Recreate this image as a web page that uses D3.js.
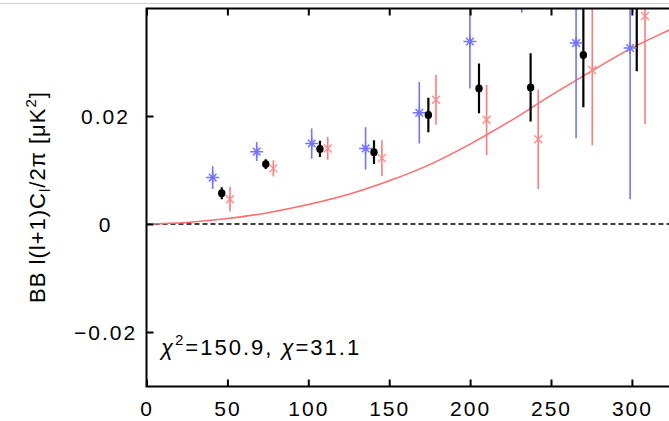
<!DOCTYPE html>
<html><head><meta charset="utf-8">
<script src="https://cdn.jsdelivr.net/npm/d3@7"></script>
<style>body{margin:0;background:#fff}svg{display:block}text{font-family:"Liberation Sans",Arial,sans-serif;fill:#000}</style>
</head><body>
<script>
// ---- data ----
const xTicks = [0, 50, 100, 150, 200, 250, 300];
const yTicks = [-0.02, 0, 0.02];
const yTickLabels = ["\u22120.02", "0", "0.02"];

const blueL = [40.9, 68.1, 102.1, 135.4, 168.6, 199.9, 231.9, 265.5, 298.9];
const blueV = [0.0086, 0.0134, 0.0149, 0.0140, 0.0206, 0.0338, 0.0480, 0.0335, 0.0326];
const blueE = [0.0021, 0.0018, 0.0028, 0.0039, 0.0057, 0.0087, 0.0089, 0.0176, 0.0280];

const blackL = [46.5, 73.7, 107.2, 140.6, 174.2, 205.5, 237.4, 270.0, 303.0];
const blackV = [0.0057, 0.0111, 0.0139, 0.0133, 0.0202, 0.0251, 0.0253, 0.0313, 0.0430];
const blackE = [0.0011, 0.0009, 0.0015, 0.0022, 0.0032, 0.0046, 0.0063, 0.0097, 0.0147];

const pinkL = [51.6, 78.4, 112.0, 145.5, 178.9, 210.2, 242.1, 275.5, 308.1];
const pinkV = [0.0046, 0.0103, 0.0140, 0.0122, 0.0230, 0.0193, 0.0157, 0.0285, 0.0385];
const pinkE = [0.0023, 0.0015, 0.0021, 0.0033, 0.0046, 0.0065, 0.0092, 0.0139, 0.0200];

const curveL = [0, 25, 50, 75, 100, 125, 150, 175, 200, 225, 250, 275, 300, 325, 350];
const curveV = [0, 0.0003, 0.0010, 0.0021, 0.0036, 0.0055, 0.0080, 0.0110, 0.0148, 0.0191, 0.0238, 0.0283, 0.0326, 0.0362, 0.0398];

// ---- layout ----
const W = 669, H = 421;
const pLeft = 146.5, pTop = 8.5, pBottom = 386.5;
const x = d3.scaleLinear().domain([0, 350]).range([pLeft, pLeft + 350 * 1.618]);
const y = d3.scaleLinear().domain([-0.03, 0.04]).range([pBottom - 0.5, pTop - 0.5]);

const svg = d3.select("body").append("svg").attr("width", W).attr("height", H);
svg.append("rect").attr("width", W).attr("height", H).attr("fill", "#fff");
svg.append("line").attr("x1", 0).attr("x2", W).attr("y1", 3.5).attr("y2", 3.5)
  .attr("stroke", "#d0d0d0").attr("stroke-width", 1);

svg.append("defs").append("clipPath").attr("id", "plot")
  .append("rect").attr("x", pLeft).attr("y", pTop).attr("width", x.range()[1] - pLeft).attr("height", pBottom - pTop);

const g = svg.append("g").attr("clip-path", "url(#plot)");

// zero dashed line
g.append("line").attr("x1", pLeft).attr("x2", x.range()[1]).attr("y1", y(0)).attr("y2", y(0))
  .attr("stroke", "#000").attr("stroke-width", 1.4).attr("stroke-dasharray", "5,3");

// theory curve
const curve = curveL.map((l, i) => [l, curveV[i]]);
g.append("path").datum(curve)
  .attr("d", d3.line().x(d => x(d[0])).y(d => y(d[1])).curve(d3.curveMonotoneX))
  .attr("fill", "none").attr("stroke", "#ff6b6b").attr("stroke-width", 1.5);

function series(L, V, E, color, bw) {
  const d = L.map((l, i) => ({l, v: V[i], e: E[i]}));
  g.append("g").selectAll("line").data(d).join("line")
    .attr("x1", p => x(p.l)).attr("x2", p => x(p.l))
    .attr("y1", p => y(p.v - p.e)).attr("y2", p => y(p.v + p.e))
    .attr("stroke", color).attr("stroke-width", bw);
  return d;
}
const bd = series(blueL, blueV, blueE, "#7373ff", 1.6);
const pd = series(pinkL, pinkV, pinkE, "#ff7a7a", 1.6);
const kd = series(blackL, blackV, blackE, "#000", 2.2);

// blue asterisks
const bs = g.append("g").attr("stroke", "#7373ff").attr("stroke-width", 1.5).attr("fill", "none");
bs.selectAll("path").data(bd).join("path")
  .attr("transform", p => `translate(${x(p.l)},${y(p.v)})`)
  .attr("d", "M-6.5,0H6.5M0,-6V6M-3.8,-3.8L3.8,3.8M-3.8,3.8L3.8,-3.8");
// pink crosses
const ps = g.append("g").attr("stroke", "#ff8a8a").attr("stroke-width", 1.4).attr("fill", "none");
ps.selectAll("path").data(pd).join("path")
  .attr("transform", p => `translate(${x(p.l)},${y(p.v)})`)
  .attr("d", "M-4,-4L4,4M-4,4L4,-4");
// black dots
g.append("g").selectAll("ellipse").data(kd).join("ellipse")
  .attr("cx", p => x(p.l)).attr("cy", p => y(p.v)).attr("rx", 3.7).attr("ry", 3.9).attr("fill", "#000");

// ---- axes ----
const fs = 21;
const xb = svg.append("g").attr("transform", `translate(0,${pBottom})`)
  .call(d3.axisBottom(x).tickValues(xTicks).tickSize(-7).tickPadding(0));
xb.select(".domain").remove();
xb.selectAll(".tick line").attr("stroke", "#000").attr("stroke-width", 2);
xb.selectAll(".tick text").attr("dy", null).attr("y", 29.5).attr("font-size", fs)
  .attr("letter-spacing", 2).attr("font-family", "Liberation Sans, Arial, sans-serif");

const xt = svg.append("g").attr("transform", `translate(0,${pTop})`)
  .call(d3.axisTop(x).tickValues(xTicks).tickSize(-7).tickFormat(""));
xt.select(".domain").remove();
xt.selectAll(".tick line").attr("stroke", "#000").attr("stroke-width", 2);

const yl = svg.append("g").attr("transform", `translate(${pLeft},0)`)
  .call(d3.axisLeft(y).tickValues(yTicks).tickSize(-7).tickFormat((d, i) => yTickLabels[i]));
yl.select(".domain").remove();
yl.selectAll(".tick line").attr("stroke", "#000").attr("stroke-width", 2);
yl.selectAll(".tick text").attr("x", -41).attr("dy", "0.36em").attr("text-anchor", "middle")
  .attr("font-size", fs).attr("letter-spacing", 2).attr("font-family", "Liberation Sans, Arial, sans-serif");

// frame
svg.append("path")
  .attr("d", `M${x.range()[1] + 10},${pTop}H${pLeft}V${pBottom}H${x.range()[1] + 10}`)
  .attr("fill", "none").attr("stroke", "#000").attr("stroke-width", 2);

// chi-square annotation
const ct = svg.append("text").attr("x", 161).attr("y", 355).attr("font-size", 22).attr("letter-spacing", 2);
ct.append("tspan").attr("font-style", "italic").text("\u03c7");
ct.append("tspan").attr("font-size", 15).attr("dy", -10).text("2");
ct.append("tspan").attr("dy", 10).text("=150.9, ");
ct.append("tspan").attr("font-style", "italic").text("\u03c7");
ct.append("tspan").text("=31.1");

// y label
const yt = svg.append("text").attr("transform", "translate(45,197) rotate(-90)")
  .attr("text-anchor", "middle").attr("font-size", 22).attr("letter-spacing", 1);
yt.append("tspan").text("BB l(l+1)C");
yt.append("tspan").attr("font-size", 15).attr("dy", 5).text("l");
yt.append("tspan").attr("dy", -5).text("/2\u03c0 [\u03bcK");
yt.append("tspan").attr("font-size", 15).attr("dy", -9).text("2");
yt.append("tspan").attr("dy", 9).text("]");
</script>
</body></html>
